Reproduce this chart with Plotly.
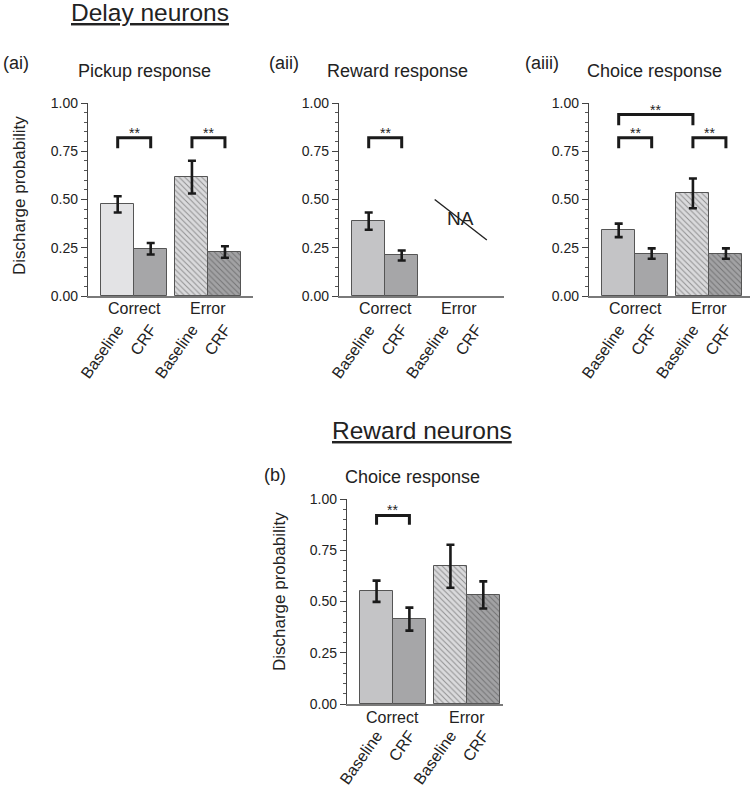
import plotly.graph_objects as go

W, H = 750, 787
FONT = "Liberation Sans, Arial, sans-serif"

# ---------------- data ----------------
bar_labels = ["Baseline", "CRF", "Baseline", "CRF"]
group_labels = ["Correct", "Error"]
x_pos = [0.9, 1.9, 3.15, 4.15]

# panel (ai) Delay neurons - pickup response
ai_vals = [0.475, 0.245, 0.616, 0.228]
ai_err = [0.042, 0.030, 0.085, 0.030]
# panel (aii) Delay neurons - reward response (error: NA)
aii_vals = [0.388, 0.210]
aii_err = [0.045, 0.026]
# panel (aiii) Delay neurons - choice response
aiii_vals = [0.340, 0.220, 0.532, 0.220]
aiii_err = [0.035, 0.027, 0.077, 0.027]
# panel (b) Reward neurons - choice response
b_vals = [0.550, 0.414, 0.672, 0.532]
b_err = [0.052, 0.056, 0.105, 0.066]

# significance brackets: (panel, bar i, bar j, height)
brackets = [
    ("ai", 0, 1, 0.82), ("ai", 2, 3, 0.82),
    ("aii", 0, 1, 0.82),
    ("aiii", 0, 1, 0.82), ("aiii", 2, 3, 0.82), ("aiii", 0, 2, 0.94),
    ("b", 0, 1, 0.92),
]

yticks = [0, 0.25, 0.5, 0.75, 1.0]

# ---------------- layout helpers ----------------
def px(x):
    return x / W

def py(y):
    return 1 - y / H

panels = {
    "ai":   dict(x0=88,  x1=253, yb=296, yt=103, xmax=5.0,  gy=309, st=16),
    "aii":  dict(x0=339, x1=504, yb=296, yt=103, xmax=5.0,  gy=309, st=16),
    "aiii": dict(x0=589, x1=750, yb=296, yt=103, xmax=4.88, gy=309, st=16),
    "b":    dict(x0=347, x1=503, yb=704, yt=499, xmax=4.75, gy=717, st=14),
}
keys = list(panels.keys())

def sfx_of(key):
    i = keys.index(key)
    return "" if i == 0 else str(i + 1)

c_base_light = "#e3e3e5"
c_base = "#c4c4c6"
c_crf = "#a6a6a8"
c_err_base = "#dadadc"
c_err_crf = "#a2a2a4"
hatch_fg = "#6a6a6a"
edge = "#555555"

fig = go.Figure()

def add_bars(key, vals, errs, base_color, has_error=True):
    s = sfx_of(key)
    fig.add_trace(go.Bar(
        x=x_pos[:2], y=vals[:2], width=1.0,
        marker=dict(color=[base_color, c_crf], line=dict(color=edge, width=1)),
        error_y=dict(type="data", array=errs[:2], color="#1a1a1a", thickness=2.6, width=4),
        xaxis="x" + s, yaxis="y" + s, showlegend=False,
    ))
    if has_error:
        fig.add_trace(go.Bar(
            x=x_pos[2:], y=vals[2:], width=1.0,
            marker=dict(color=[c_err_base, c_err_crf], line=dict(color=edge, width=1),
                        pattern=dict(shape="\\", fillmode="overlay", fgcolor=hatch_fg,
                                     size=4, solidity=0.25)),
            error_y=dict(type="data", array=errs[2:], color="#1a1a1a", thickness=2.6, width=4),
            xaxis="x" + s, yaxis="y" + s, showlegend=False,
        ))

add_bars("ai", ai_vals, ai_err, c_base_light)
add_bars("aii", aii_vals, aii_err, c_base, has_error=False)
add_bars("aiii", aiii_vals, aiii_err, c_base)
add_bars("b", b_vals, b_err, c_base)

layout = dict(
    width=W, height=H, margin=dict(l=0, r=0, t=0, b=0, autoexpand=False),
    paper_bgcolor="white", plot_bgcolor="white",
    bargap=0, barmode="overlay",
    font=dict(family=FONT, color="#222"),
)

annotations = []
shapes = []

for key, p in panels.items():
    s = sfx_of(key)
    layout["xaxis" + s] = dict(
        domain=[px(p["x0"]), px(p["x1"])], range=[0, p["xmax"]],
        anchor="y" + s, showline=True, linecolor="#7a7a7a", linewidth=1.6,
        showgrid=False, zeroline=False, ticks="", automargin=False,
        tickvals=x_pos, ticktext=bar_labels, tickangle=-55,
        ticklabelstandoff=p["st"], tickfont=dict(size=16, family=FONT, color="#222"),
        fixedrange=True,
    )
    layout["yaxis" + s] = dict(
        domain=[py(p["yb"]), py(p["yt"])], range=[0, 1],
        anchor="x" + s, showline=True, linecolor="#444", linewidth=1.3,
        showgrid=False, zeroline=False, automargin=False,
        tickvals=yticks, tickformat=".2f", ticks="outside", ticklen=6,
        tickwidth=1.2, tickcolor="#444",
        minor=dict(dtick=0.05, ticks="outside", ticklen=3, tickwidth=1, tickcolor="#555"),
        tickfont=dict(size=14, family=FONT, color="#222"),
        fixedrange=True,
    )
    for g, (a, b) in enumerate([(0, 1), (2, 3)]):
        annotations.append(dict(
            x=(x_pos[a] + x_pos[b]) / 2, y=py(p["gy"]), xref="x" + s, yref="paper",
            text=group_labels[g], showarrow=False, font=dict(size=16, family=FONT, color="#222"),
            xanchor="center", yanchor="middle",
        ))

# brackets
leg = {"ai": 0.055, "aii": 0.055, "aiii": 0.055, "b": 0.045}
for key, i, j, top in brackets:
    s = sfx_of(key)
    xa, xb = x_pos[i], x_pos[j]
    yl = top - leg[key]
    shapes.append(dict(
        type="path", xref="x" + s, yref="y" + s,
        path=f"M {xa},{yl} L {xa},{top} L {xb},{top} L {xb},{yl}",
        line=dict(color="#1a1a1a", width=3),
    ))
    annotations.append(dict(
        x=(xa + xb) / 2, y=top, xref="x" + s, yref="y" + s, text="**",
        showarrow=False, font=dict(size=14, family=FONT, color="#222"),
        xanchor="center", yanchor="bottom", yshift=-5,
    ))

# NA slash in panel aii
na_line = [(2.9, 0.50), (4.48, 0.29)]
shapes.append(dict(type="line", xref="x2", yref="y2",
                   x0=na_line[0][0], y0=na_line[0][1], x1=na_line[1][0], y1=na_line[1][1],
                   line=dict(color="#222", width=1.4)))
annotations.append(dict(x=3.67, y=0.40, xref="x2", yref="y2", text="NA", showarrow=False,
                        font=dict(size=19, family=FONT, color="#222")))

def txt(x, y, s, size, angle=0, xanchor="center"):
    annotations.append(dict(x=px(x), y=py(y), xref="paper", yref="paper", text=s,
                            showarrow=False, textangle=angle, xanchor=xanchor, yanchor="middle",
                            font=dict(size=size, family=FONT, color="#222")))

txt(150, 13, "<u>Delay neurons</u>", 24.5)
txt(422, 430, "<u>Reward neurons</u>", 24.5)

txt(1, 63, "(ai)", 18, xanchor="left")
txt(267, 63, "(aii)", 18, xanchor="left")
txt(523, 63, "(aiii)", 18, xanchor="left")
txt(262, 475, "(b)", 18, xanchor="left")

txt(144, 71, "Pickup response", 18)
txt(398, 71, "Reward response", 18)
txt(654, 71, "Choice response", 18)
txt(412, 477, "Choice response", 18)

txt(19, 196, "Discharge probability", 17, angle=-90)
txt(279, 592, "Discharge probability", 17, angle=-90)

layout["annotations"] = annotations
layout["shapes"] = shapes
fig.update_layout(**layout)

fig.write_html("out.html", config={"displayModeBar": False},
               post_script="document.body.style.margin='0';")
